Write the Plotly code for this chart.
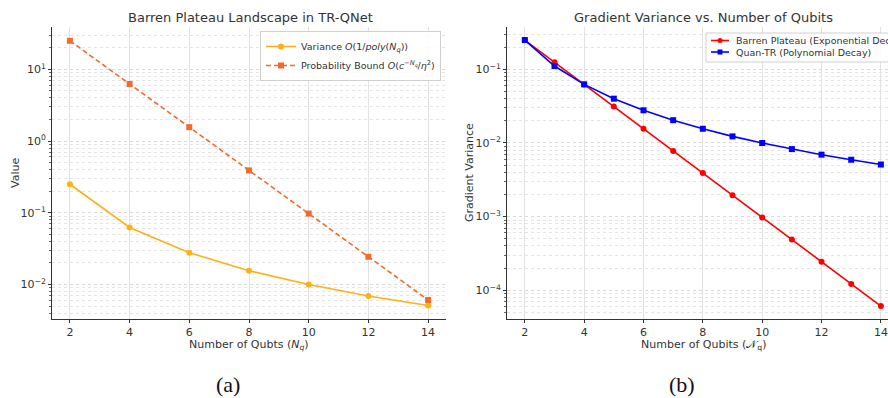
import plotly.graph_objects as go

W, H = 888, 398

# ---- data ----
qubits_a = [2, 4, 6, 8, 10, 12, 14]
variance_poly = [0.25, 0.0625, 0.0278, 0.0156, 0.0100, 0.00694, 0.0051]
prob_bound = [25.0, 6.25, 1.5625, 0.39, 0.0977, 0.0244, 0.0061]

qubits_b = [2, 3, 4, 5, 6, 7, 8, 9, 10, 11, 12, 13, 14]
barren = [0.25, 0.125, 0.0625, 0.03125, 0.0156, 0.0078, 0.0039, 0.00195,
          0.000977, 0.000488, 0.000244, 0.000122, 0.000061]
quantr = [0.25, 0.111, 0.0625, 0.04, 0.0278, 0.0204, 0.0156, 0.0123,
          0.0100, 0.00826, 0.00694, 0.00592, 0.0051]

xticks = [2, 4, 6, 8, 10, 12, 14]
yticks_a = [0.01, 0.1, 1, 10]
yticks_a_txt = ["10<sup>−2</sup>", "10<sup>−1</sup>", "10<sup>0</sup>", "10<sup>1</sup>"]
yticks_b = [0.0001, 0.001, 0.01, 0.1]
yticks_b_txt = ["10<sup>−4</sup>", "10<sup>−3</sup>", "10<sup>−2</sup>", "10<sup>−1</sup>"]

minor_a = [m * 10.0 ** e for e in range(-3, 2) for m in range(2, 10)]
minor_b = [m * 10.0 ** e for e in range(-5, 0) for m in range(2, 10)]

names_a = ["Variance <i>O</i>(1/<i>poly</i>(<i>N<sub>q</sub></i>))",
           "Probability Bound <i>O</i>(<i>c</i><sup>−<i>N<sub>q</sub></i></sup>/<i>η</i><sup>2</sup>)"]
names_b = ["Barren Plateau (Exponential Decay)", "Quan-TR (Polynomial Decay)"]


def px(x):
    return x / W


def py(y):
    return 1 - y / H


FONT = "DejaVu Sans, Verdana, sans-serif"
C_VAR = "#FBB117"
C_PB = "#F26B2A"
C_RED = "#FF0000"
C_BLUE = "#0000FF"

fig = go.Figure()
fig.add_trace(go.Scatter(
    x=qubits_a, y=variance_poly, mode="lines+markers", name=names_a[0],
    line=dict(color=C_VAR, width=1.6), marker=dict(symbol="circle", size=6, color=C_VAR),
    xaxis="x", yaxis="y"))
fig.add_trace(go.Scatter(
    x=qubits_a, y=prob_bound, mode="lines+markers", name=names_a[1],
    line=dict(color=C_PB, width=1.6, dash="5px,3px"), marker=dict(symbol="square", size=6, color=C_PB),
    xaxis="x", yaxis="y"))
fig.add_trace(go.Scatter(
    x=qubits_b, y=barren, mode="lines+markers", name=names_b[0], showlegend=False,
    line=dict(color=C_RED, width=1.6), marker=dict(symbol="circle", size=6, color=C_RED),
    xaxis="x2", yaxis="y2"))
fig.add_trace(go.Scatter(
    x=qubits_b, y=quantr, mode="lines+markers", name=names_b[1], showlegend=False,
    line=dict(color=C_BLUE, width=1.6), marker=dict(symbol="square", size=6, color=C_BLUE),
    xaxis="x2", yaxis="y2"))

ydom = [py(319), py(27)]
common_x = dict(tickmode="array", tickvals=xticks, ticks="outside", ticklen=3, tickcolor="#333",
                showline=True, linecolor="#333", linewidth=1,
                showgrid=True, gridcolor="#e2e2e2", gridwidth=1,
                zeroline=False, tickfont=dict(family=FONT, size=11, color="#333"),
                automargin=False)


def yaxis_cfg(rng, vals, txt, minor_vals, anchor):
    return dict(type="log", range=rng, tickmode="array", tickvals=vals, ticktext=txt,
                ticks="outside", ticklen=3, tickcolor="#333",
                showline=True, linecolor="#333", linewidth=1,
                showgrid=True, gridcolor="#d9d9d9", gridwidth=1, griddash="dot",
                minor=dict(tickmode="array", tickvals=minor_vals, ticks="outside", ticklen=2,
                           tickcolor="#666", showgrid=True, gridcolor="#e4e4e4", griddash="dot"),
                zeroline=False, tickfont=dict(family=FONT, size=11, color="#333"),
                automargin=False, domain=ydom, anchor=anchor)


fig.update_layout(
    width=W, height=H, autosize=False, margin=dict(l=0, r=0, t=0, b=0),
    paper_bgcolor="white", plot_bgcolor="white",
    font=dict(family=FONT, color="#333"),
    xaxis=dict(domain=[px(52), px(446)], range=[1.4, 14.6], anchor="y", **common_x),
    yaxis=yaxis_cfg([-2.48, 1.59], yticks_a, yticks_a_txt, minor_a, "x"),
    xaxis2=dict(domain=[px(507), 1.0], range=[1.4, 14.24], anchor="y2", **common_x),
    yaxis2=yaxis_cfg([-4.39, -0.425], yticks_b, yticks_b_txt, minor_b, "x2"),
    legend=dict(x=px(441), y=py(31), xanchor="right", yanchor="top",
                bordercolor="#d0d0d0", borderwidth=1, bgcolor="rgba(255,255,255,0.85)",
                font=dict(family=FONT, size=9.5, color="#333"), tracegroupgap=0,
                itemwidth=30),
    showlegend=True,
)

# ---- legend of panel (b), drawn by hand so it can run off the right edge like the reference ----
fig.add_shape(type="rect", xref="paper", yref="paper",
              x0=px(706), x1=px(900), y0=py(62), y1=py(33),
              line=dict(color="#d0d0d0", width=1), fillcolor="rgba(255,255,255,0.9)", layer="above")
leg_rows = [(40.5, C_RED, "circle"), (52, C_BLUE, "square")]
for (yy, col, sym), nm in zip(leg_rows, names_b):
    fig.add_shape(type="line", xref="paper", yref="paper", x0=px(711), x1=px(729),
                  y0=py(yy), y1=py(yy), line=dict(color=col, width=1.6), layer="above")
    fig.add_shape(type="circle" if sym == "circle" else "rect", xref="paper", yref="paper",
                  x0=px(717.5), x1=px(722.5), y0=py(yy + 2.5), y1=py(yy - 2.5),
                  line=dict(color=col, width=0), fillcolor=col, layer="above")
    fig.add_annotation(text=nm, x=px(734), y=py(yy), xref="paper", yref="paper",
                       xanchor="left", yanchor="middle", showarrow=False,
                       font=dict(family=FONT, size=9.5, color="#333"))

ann = [
    dict(text="Barren Plateau Landscape in TR-QNet", x=px(250), y=py(18), size=13),
    dict(text="Gradient Variance vs. Number of Qubits", x=px(703), y=py(18), size=13),
    dict(text="Number of Qubts (<i>N<sub>q</sub></i>)", x=px(249), y=py(345), size=11),
    dict(text="Number of Qubits (𝒩<sub>q</sub>)", x=px(703), y=py(345), size=11),
]
for a in ann:
    fig.add_annotation(text=a["text"], x=a["x"], y=a["y"], xref="paper", yref="paper",
                       xanchor="center", yanchor="middle", showarrow=False,
                       font=dict(family=FONT, size=a["size"], color="#333"))
fig.add_annotation(text="Value", x=px(15), y=py(173), xref="paper", yref="paper",
                   textangle=-90, showarrow=False, xanchor="center", yanchor="middle",
                   font=dict(family=FONT, size=11, color="#333"))
fig.add_annotation(text="Gradient Variance", x=px(469), y=py(173), xref="paper", yref="paper",
                   textangle=-90, showarrow=False, xanchor="center", yanchor="middle",
                   font=dict(family=FONT, size=11, color="#333"))
for t, xx in [("(a)", 228), ("(b)", 682)]:
    fig.add_annotation(text=t, x=px(xx), y=py(384), xref="paper", yref="paper",
                       showarrow=False, xanchor="center", yanchor="middle",
                       font=dict(family="Liberation Serif, DejaVu Serif, serif", size=22, color="#111"))

fig.write_html("out.html", config={"responsive": False, "displayModeBar": False},
               post_script="document.body.style.margin='0';document.body.style.overflow='hidden';")
